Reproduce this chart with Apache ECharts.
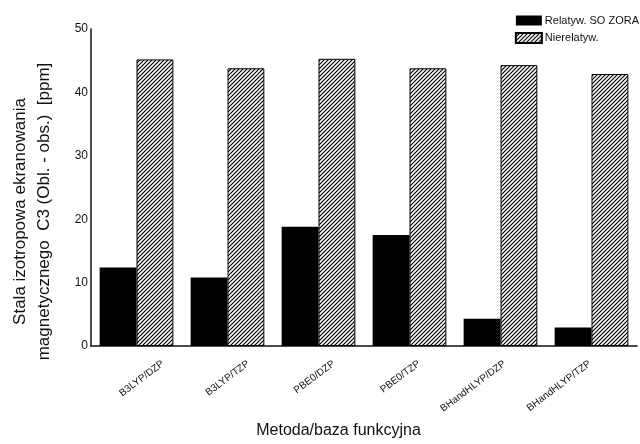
<!DOCTYPE html>
<html>
<head>
<meta charset="utf-8">
<script src="https://cdn.jsdelivr.net/npm/echarts@6/dist/echarts.min.js"></script>
<style>
html,body{margin:0;padding:0;background:#fff;}
#chart{width:640px;height:444px;}
</style>
</head>
<body>
<div id="chart"></div>
<script>
const categories = ['B3LYP/DZP', 'B3LYP/TZP', 'PBE0/DZP', 'PBE0/TZP', 'BHandHLYP/DZP', 'BHandHLYP/TZP'];
const seriesNames = ['Relatyw. SO ZORA', 'Nierelatyw.'];
const relatValues = [12.4, 10.8, 18.8, 17.5, 4.3, 2.9];
const nonRelatValues = [45.2, 43.8, 45.3, 43.8, 44.3, 42.9];
const yTicks = { min: 0, max: 50, interval: 10 };

// diagonal hatch pattern
const tile = document.createElement('canvas');
tile.width = 4; tile.height = 4;
const c = tile.getContext('2d');
c.fillStyle = '#fff'; c.fillRect(0, 0, 4, 4);
c.strokeStyle = '#000'; c.lineWidth = 1.2;
c.beginPath();
c.moveTo(-1, 5); c.lineTo(5, -1);
c.moveTo(-1, 1); c.lineTo(1, -1);
c.moveTo(3, 5); c.lineTo(5, 3);
c.stroke();

const font = 'Liberation Sans, Arial, sans-serif';
const chart = echarts.init(document.getElementById('chart'), null, { renderer: 'canvas' });
chart.setOption({
  animation: false,
  backgroundColor: '#fff',
  textStyle: { fontFamily: font, color: '#111' },
  legend: {
    right: -4, top: 10,
    orient: 'vertical',
    icon: 'rect',
    itemWidth: 26, itemHeight: 10, itemGap: 6,
    textStyle: { fontSize: 11, color: '#111', fontFamily: font, padding: [0, 0, 0, -2] },
    data: seriesNames
  },
  grid: [
    { left: 89, right: 3, top: 29, bottom: 91.5 },
    { left: 120.3, right: 7.3, top: 29, bottom: 91.5 }
  ],
  xAxis: [
    {
      type: 'category', gridIndex: 0, data: categories,
      axisLine: { lineStyle: { color: '#111', width: 1.5 } },
      axisTick: { show: false },
      axisLabel: { show: false },
      name: 'Metoda/baza funkcyjna',
      nameLocation: 'middle', nameGap: 77,
      nameTextStyle: { fontSize: 16, color: '#111', fontFamily: font, padding: [0, 51, 0, 0] }
    },
    {
      type: 'category', gridIndex: 1, data: categories,
      axisLine: { show: false }, axisTick: { show: false },
      axisLabel: { rotate: 37, margin: 10, fontSize: 10, color: '#111', fontFamily: font, interval: 0 }
    }
  ],
  yAxis: [
    {
      type: 'value', gridIndex: 0, min: yTicks.min, max: yTicks.max, interval: yTicks.interval,
      axisLine: { show: true, lineStyle: { color: '#111', width: 1.5 } },
      axisTick: { show: false },
      splitLine: { show: false },
      axisLabel: { fontSize: 12, color: '#111', margin: 3, fontFamily: font },
      name: 'Stala izotropowa ekranowania\nmagnetycznego  C3 (Obl. - obs.)  [ppm]',
      nameLocation: 'middle', nameRotate: 90, nameGap: 35,
      nameTextStyle: { fontSize: 17, lineHeight: 24, color: '#111', fontFamily: font, padding: [0, 48, 0, 0] }
    },
    { type: 'value', gridIndex: 1, show: false, min: 0, max: 50 }
  ],
  series: [
    {
      name: seriesNames[0], type: 'bar', xAxisIndex: 0, yAxisIndex: 0,
      data: relatValues, barGap: '0%', barCategoryGap: '19%',
      itemStyle: { color: '#000' }
    },
    {
      name: seriesNames[1], type: 'bar', xAxisIndex: 0, yAxisIndex: 0,
      data: nonRelatValues, barGap: '0%', barCategoryGap: '19%',
      itemStyle: { color: { image: tile, repeat: 'repeat' }, borderColor: '#000', borderWidth: 1 }
    }
  ]
});
</script>
</body>
</html>
